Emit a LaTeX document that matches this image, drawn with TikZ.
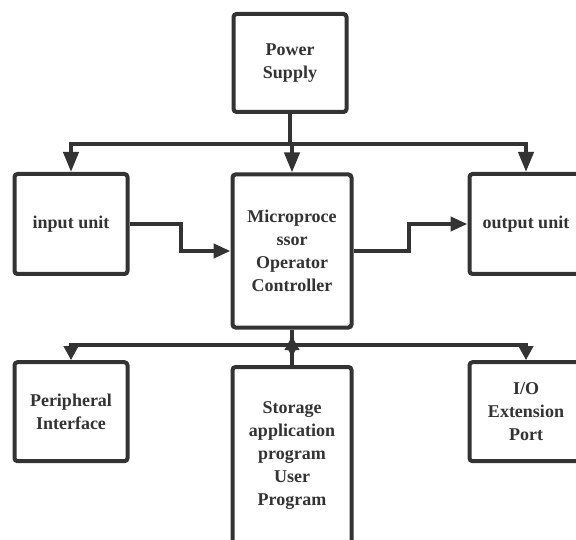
\documentclass[tikz,border=0pt]{standalone}
\usepackage{fontspec}
\setmainfont{Liberation Serif}[BoldFont={Liberation Serif Bold}]
\usetikzlibrary{arrows.meta}
\definecolor{ink}{HTML}{333333}
\tikzset{
  box/.style={draw=ink, line width=4pt, rounded corners=3pt, fill=white,
    align=center, text=ink, inner sep=2pt,
    font=\bfseries\fontsize{18}{23}\selectfont},
  wire/.style={draw=ink, line width=4pt},
  arr/.style={wire, -{Triangle[length=17pt,width=14pt]}},
  bigarr/.style={wire, -{Triangle[length=20pt,width=15pt]}},
  smallarr/.style={wire, -{Triangle[length=14pt,width=14pt]}}
}
\begin{document}
\begin{tikzpicture}[x=1pt,y=-1pt]
\useasboundingbox (0,0) rectangle (576,540);
\clip (0,0) rectangle (576,540);
\node[box, minimum width=113pt, minimum height=98pt] (power) at (290,63) {Power\\Supply};
\node[box, minimum width=113pt, minimum height=100pt] (input) at (71,224) {input unit};
\node[box, minimum width=119pt, minimum height=153pt] (micro) at (292,251) {Microproce\\ssor\\Operator\\Controller};
\node[box, minimum width=113pt, minimum height=100pt] (output) at (526,224) {output unit};
\node[box, minimum width=113pt, minimum height=99pt] (periph) at (71,411.7) {Peripheral\\Interface};
\node[box, minimum width=119pt, minimum height=178pt] (storage) at (292,456) {Storage\\application\\program\\User\\Program};
\node[box, minimum width=113pt, minimum height=99pt] (io) at (526,411.7) {I/O\\Extension\\Port};

\coordinate (bus1) at (290,144);
\coordinate (bus2) at (292,345);
\coordinate (downtip) at (292,357);
\coordinate (uptip) at (292,336);

\draw[wire] (power.south) -- (bus1);
\draw[bigarr] (bus1) -| (input.north);
\draw[bigarr] (bus1) -| (output.north);
\draw[bigarr] (bus1) -- (bus1 -| micro.north) -- (micro.north);

\draw[arr] (input.east) -- ++(51,0) |- (micro.west);
\draw[arr] (micro.east) -- ++(55,0) |- (output.west);

\draw[smallarr] (bus2) -| (periph.north);
\draw[smallarr] (bus2) -| (io.north);
\draw[smallarr] (micro.south) -- (downtip);
\draw[smallarr] (storage.north) -- (uptip);
\end{tikzpicture}
\end{document}
